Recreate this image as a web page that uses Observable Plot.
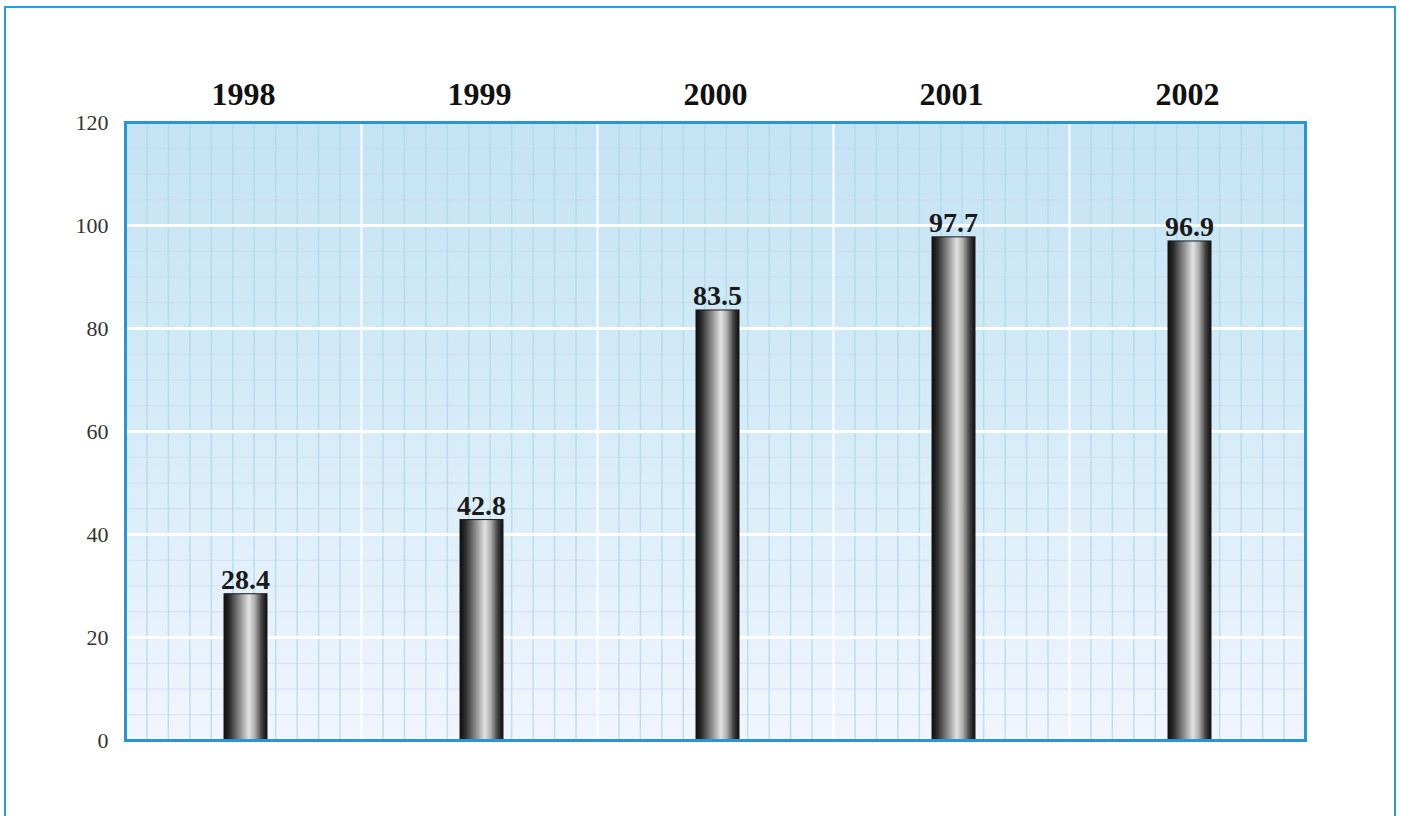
<!DOCTYPE html>
<html>
<head>
<meta charset="utf-8">
<script src="https://cdn.jsdelivr.net/npm/d3@7"></script>
<script src="https://cdn.jsdelivr.net/npm/@observablehq/plot@0.6"></script>
<style>
  html, body { margin: 0; padding: 0; background: #fff; overflow: hidden; }
  #outer { position: absolute; left: 4px; top: 6px; width: 1388px; height: 900px; border: 2px solid #22a0e4; }
  #chart { position: absolute; left: 0; top: 0; }
</style>
</head>
<body>
<div id="outer"></div>
<div id="chart"></div>
<script>
const years = ["1998", "1999", "2000", "2001", "2002"];
const values = [28.4, 42.8, 83.5, 97.7, 96.9];
const yTicks = [0, 20, 40, 60, 80, 100, 120];
const majorY = [20, 40, 60, 80, 100];

const data = years.map((year, i) => ({year, value: values[i], i}));
const minorX = d3.range(0, 55).map(k => k / 11).filter(v => v % 1 !== 0);
const minorY = d3.range(5, 120, 5).filter(v => v % 20 !== 0);

const svg = Plot.plot({
  width: 1401,
  height: 816,
  marginLeft: 125,
  marginRight: 96,
  marginTop: 122,
  marginBottom: 76,
  style: {background: "transparent", fontFamily: "'Liberation Serif', 'Times New Roman', serif", color: "#222"},
  x: {type: "linear", domain: [0, years.length], axis: null},
  y: {domain: [0, 120], axis: null},
  marks: [
    Plot.frame({fill: "url(#bgGrad)"}),
    Plot.ruleY(minorY, {stroke: "#cdd3f2", strokeWidth: 1, strokeOpacity: 0.7}),
    Plot.ruleX(minorX, {stroke: "#a8dbe6", strokeWidth: 1.5, strokeOpacity: 0.75}),
    Plot.ruleY(majorY, {stroke: "#ffffff", strokeWidth: 3}),
    Plot.ruleX([1, 2, 3, 4], {stroke: "#ffffff", strokeWidth: 2}),
    Plot.rectY(data, {
      x1: d => d.i, x2: d => d.i + 1, y: "value",
      insetLeft: 99, insetRight: 94,
      fill: "url(#barGrad)", stroke: "#1a1a1a", strokeWidth: 1
    }),
    Plot.text(data, {
      x: d => d.i + 0.5, y: "value", text: d => d.value.toFixed(1),
      lineAnchor: "bottom", dy: -5, dx: 2, fontSize: 28, fontWeight: "bold", fill: "#1a1a1a"
    }),
    Plot.frame({stroke: "#2896d6", strokeWidth: 3}),
    Plot.axisX({
      anchor: "top", ticks: data.map(d => d.i + 0.5),
      tickFormat: v => years[Math.floor(v)],
      tickSize: 0, tickPadding: 18, fontSize: 32, fontWeight: "bold", fill: "#111", label: null
    }),
    Plot.axisY({
      ticks: yTicks, tickSize: 0, tickPadding: 17, fontSize: 22, fill: "#333", label: null
    })
  ]
});

const defs = d3.select(svg).insert("defs", ":first-child");
const bg = defs.append("linearGradient").attr("id", "bgGrad").attr("x1", 0).attr("y1", 0).attr("x2", 0).attr("y2", 1);
[["0%", "#c4e3f4"], ["50%", "#d6ecf8"], ["100%", "#f1f5fd"]].forEach(([o, c]) =>
  bg.append("stop").attr("offset", o).attr("stop-color", c));
const bar = defs.append("linearGradient").attr("id", "barGrad").attr("x1", 0).attr("y1", 0).attr("x2", 1).attr("y2", 0);
[["0%", "#0e0e0e"], ["12%", "#2a2a2a"], ["35%", "#858585"], ["58%", "#e2e2e2"], ["72%", "#ababab"], ["88%", "#3e3e3e"], ["100%", "#0e0e0e"]].forEach(([o, c]) =>
  bar.append("stop").attr("offset", o).attr("stop-color", c));

document.getElementById("chart").appendChild(svg);
</script>
</body>
</html>
